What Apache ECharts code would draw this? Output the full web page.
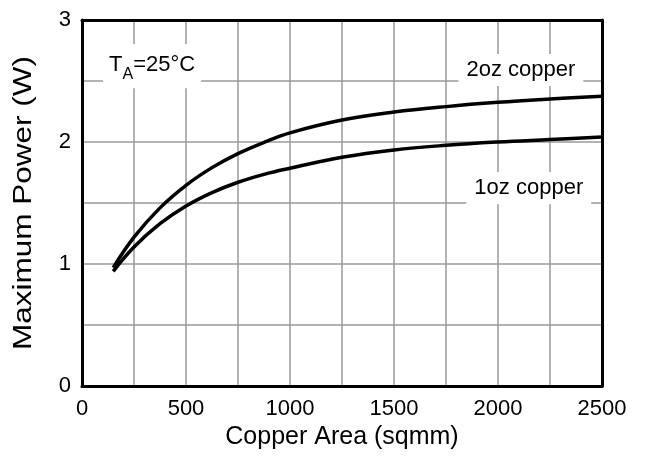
<!DOCTYPE html>
<html>
<head>
<meta charset="utf-8">
<script src="https://cdn.jsdelivr.net/npm/echarts@6/dist/echarts.min.js"></script>
<style>
  html, body { margin: 0; padding: 0; background: #fff; }
  #chart { width: 646px; height: 459px; }
</style>
</head>
<body>
<div id="chart"></div>
<script>
// Copper area (sqmm) sample points
const area = [150, 250, 375, 500, 625, 750, 875, 1000, 1250, 1500, 1750, 2000, 2250, 2500];
// Maximum power (W) for each copper weight
const power2oz = [0.97, 1.22, 1.46, 1.645, 1.79, 1.905, 1.997, 2.075, 2.18, 2.245, 2.29, 2.325, 2.352, 2.375];
const power1oz = [0.94, 1.14, 1.33, 1.475, 1.585, 1.67, 1.735, 1.785, 1.875, 1.935, 1.973, 2.0, 2.02, 2.04];

const xTicks = [0, 500, 1000, 1500, 2000, 2500];
const yTicks = [0, 1, 2, 3];

const FONT = 'Arial, "Liberation Sans", Helvetica, sans-serif';

const pair = (xs, ys) => xs.map((x, i) => [x, ys[i]]);

const chart = echarts.init(document.getElementById('chart'), null, { renderer: 'canvas' });

const gridLine = { show: true, lineStyle: { color: '#9a9a9a', width: 1.5 } };
const frame = { show: true, onZero: false, lineStyle: { color: '#000', width: 3 } };

chart.setOption({
  animation: false,
  backgroundColor: '#fff',
  grid: { left: 82, right: 44, top: 20, bottom: 73 },
  // vertical axis title, set in a wide face
  graphic: [{
    type: 'text', x: 24, y: 203, rotation: Math.PI / 2, scaleX: 1.26, scaleY: 1,
    style: {
      text: 'Maximum Power (W)', font: '25px ' + FONT, fill: '#000',
      align: 'center', verticalAlign: 'middle'
    }
  }],
  xAxis: [{
    type: 'value', min: 0, max: 2500, interval: 250,
    name: 'Copper Area (sqmm)', nameLocation: 'middle', nameGap: 38,
    nameTextStyle: { fontFamily: FONT, fontSize: 25, color: '#000' },
    axisLine: frame, axisTick: { show: false },
    splitLine: gridLine,
    axisLabel: {
      fontFamily: FONT, fontSize: 22, color: '#000', margin: 12,
      formatter: v => xTicks.includes(v) ? String(v) : ''
    }
  }, {
    type: 'value', min: 0, max: 2500, position: 'top',
    axisLine: frame, axisTick: { show: false }, axisLabel: { show: false }, splitLine: { show: false }
  }],
  yAxis: [{
    type: 'value', min: 0, max: 3, interval: 0.5,
    axisLine: frame, axisTick: { show: false },
    splitLine: gridLine,
    axisLabel: {
      fontFamily: FONT, fontSize: 22, color: '#000', margin: 11,
      formatter: v => yTicks.includes(v) ? String(v) : ''
    }
  }, {
    type: 'value', min: 0, max: 3, position: 'right',
    axisLine: frame, axisTick: { show: false }, axisLabel: { show: false }, splitLine: { show: false }
  }],
  series: [{
    name: '2oz copper', type: 'line', smooth: 0.4, showSymbol: false,
    data: pair(area, power2oz),
    lineStyle: { color: '#000', width: 3.5 },
    z: 5,
    markPoint: {
      symbol: 'rect', symbolSize: 0,
      label: {
        show: true, position: 'inside', color: '#000', fontFamily: FONT,
        backgroundColor: '#fff', padding: [5, 8]
      },
      data: [
        { coord: [2110, 2.59], label: { formatter: '2oz copper', fontSize: 22 } },
        {
          coord: [337, 2.62],
          label: {
            formatter: '{t|T}{s|A}{t|=25°C}',
            padding: [6, 6, 8, 6],
            rich: {
              t: { fontFamily: FONT, fontSize: 22, color: '#000', lineHeight: 30, verticalAlign: 'middle' },
              s: { fontFamily: FONT, fontSize: 16, color: '#000', lineHeight: 30, verticalAlign: 'middle', padding: [18, 0, 0, 0] }
            }
          }
        }
      ]
    }
  }, {
    name: '1oz copper', type: 'line', smooth: 0.4, showSymbol: false,
    data: pair(area, power1oz),
    lineStyle: { color: '#000', width: 3.5 },
    z: 5,
    markPoint: {
      symbol: 'rect', symbolSize: 0,
      label: {
        show: true, position: 'inside', color: '#000', fontFamily: FONT, fontSize: 22,
        backgroundColor: '#fff', padding: [5, 8]
      },
      data: [{ coord: [2148, 1.62], label: { formatter: '1oz copper' } }]
    }
  }]
});
</script>
</body>
</html>
